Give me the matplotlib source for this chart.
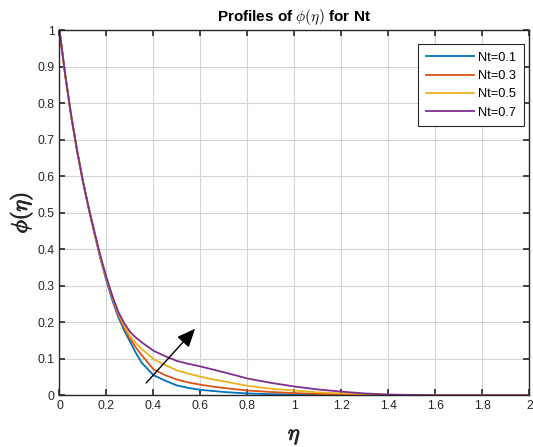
import matplotlib
matplotlib.use("Agg")
import matplotlib.pyplot as plt
import matplotlib.patheffects as pe

eta = [0, 0.025, 0.05, 0.075, 0.1, 0.125, 0.15, 0.175, 0.2, 0.225, 0.25, 0.275, 0.3,
       0.325, 0.35, 0.4, 0.45, 0.5, 0.55, 0.6, 0.65, 0.7, 0.8, 0.9, 1.0, 1.1, 1.2, 1.3, 1.4,
       1.5, 1.6, 1.7, 1.8, 1.9, 2.0]

phi_nt01 = [1, 0.875, 0.765, 0.67, 0.585, 0.51, 0.44, 0.372, 0.313, 0.26, 0.215, 0.178, 0.147,
            0.116, 0.089, 0.055, 0.040, 0.027, 0.020, 0.015, 0.012, 0.009, 0.005, 0.003, 0.002,
            0.001, 0, 0, 0, 0, 0, 0, 0, 0, 0]
phi_nt03 = [1, 0.875, 0.765, 0.67, 0.585, 0.51, 0.441, 0.375, 0.318, 0.266, 0.221, 0.185, 0.155,
            0.131, 0.110, 0.071, 0.055, 0.043, 0.035, 0.029, 0.024, 0.020, 0.013, 0.009, 0.006,
            0.004, 0.002, 0.001, 0, 0, 0, 0, 0, 0, 0]
phi_nt05 = [1, 0.875, 0.765, 0.67, 0.586, 0.511, 0.443, 0.377, 0.32, 0.27, 0.226, 0.191, 0.162,
            0.143, 0.127, 0.099, 0.083, 0.068, 0.059, 0.051, 0.044, 0.038, 0.026, 0.018, 0.013,
            0.008, 0.005, 0.003, 0.001, 0, 0, 0, 0, 0, 0]
phi_nt07 = [1, 0.875, 0.765, 0.67, 0.586, 0.512, 0.445, 0.38, 0.323, 0.272, 0.229, 0.198, 0.174,
            0.158, 0.145, 0.122, 0.107, 0.094, 0.086, 0.079, 0.071, 0.063, 0.046, 0.034, 0.024,
            0.016, 0.010, 0.005, 0.002, 0.001, 0, 0, 0, 0, 0]

series = [phi_nt01, phi_nt03, phi_nt05, phi_nt07]
labels = ["Nt=0.1", "Nt=0.3", "Nt=0.5", "Nt=0.7"]
colors = ["#0072BD", "#D95319", "#EDB120", "#7E2F8E"]

xticks = [0, 0.2, 0.4, 0.6, 0.8, 1, 1.2, 1.4, 1.6, 1.8, 2]
xticklabels = ["0", "0.2", "0.4", "0.6", "0.8", "1", "1.2", "1.4", "1.6", "1.8", "2"]
yticks = [0, 0.1, 0.2, 0.3, 0.4, 0.5, 0.6, 0.7, 0.8, 0.9, 1]
yticklabels = ["0", "0.1", "0.2", "0.3", "0.4", "0.5", "0.6", "0.7", "0.8", "0.9", "1"]

plt.rcParams['font.family'] = ['Liberation Sans', 'DejaVu Sans']
plt.rcParams['mathtext.fontset'] = 'cm'

fig = plt.figure(figsize=(5.33, 4.47), dpi=100)
ax = fig.add_axes([0.1116, 0.1157, 0.8818, 0.8165])

for ys, lab, c in zip(series, labels, colors):
    ax.plot(eta, ys, color=c, lw=1.3, label=lab)

ax.set_xlim(0, 2)
ax.set_ylim(0, 1)
ax.set_xticks(xticks)
ax.set_xticklabels(xticklabels)
ax.set_yticks(yticks)
ax.set_yticklabels(yticklabels)
ax.grid(True, color="#d4d4d4", lw=0.8)
ax.set_axisbelow(True)
ax.tick_params(direction="in", top=True, right=True, length=4, width=1.2,
               labelsize=8.7, colors="#262626", labelcolor="#262626")
for s in ax.spines.values():
    s.set_color("#262626")
    s.set_linewidth(1.0)

ax.set_title(r"Profiles of $\phi(\eta)$ for Nt", fontsize=11, fontweight="bold", pad=7)
bold = [pe.withStroke(linewidth=0.7, foreground="#262626")]
xl = ax.set_xlabel(r"$\eta$", fontsize=16, labelpad=10, color="#262626")
yl = ax.set_ylabel(r"$\phi(\eta)$", fontsize=16, labelpad=2, color="#262626")
xl.set_path_effects(bold)
yl.set_path_effects(bold)

ax.annotate("", xy=(0.585, 0.188), xytext=(0.361, 0.028),
            arrowprops=dict(arrowstyle="-|>,head_length=0.7,head_width=0.3", color="black",
                            lw=1.0, mutation_scale=16))

leg = ax.legend(loc="upper right", bbox_to_anchor=(0.9883, 0.9625), borderaxespad=0,
                fontsize=9.2, frameon=True, fancybox=False,
                edgecolor="#262626", framealpha=1, handlelength=3.8,
                labelspacing=0.5, handletextpad=0.3, borderpad=0.6)
leg.get_frame().set_linewidth(0.8)

fig.savefig("out.png", dpi=100)
